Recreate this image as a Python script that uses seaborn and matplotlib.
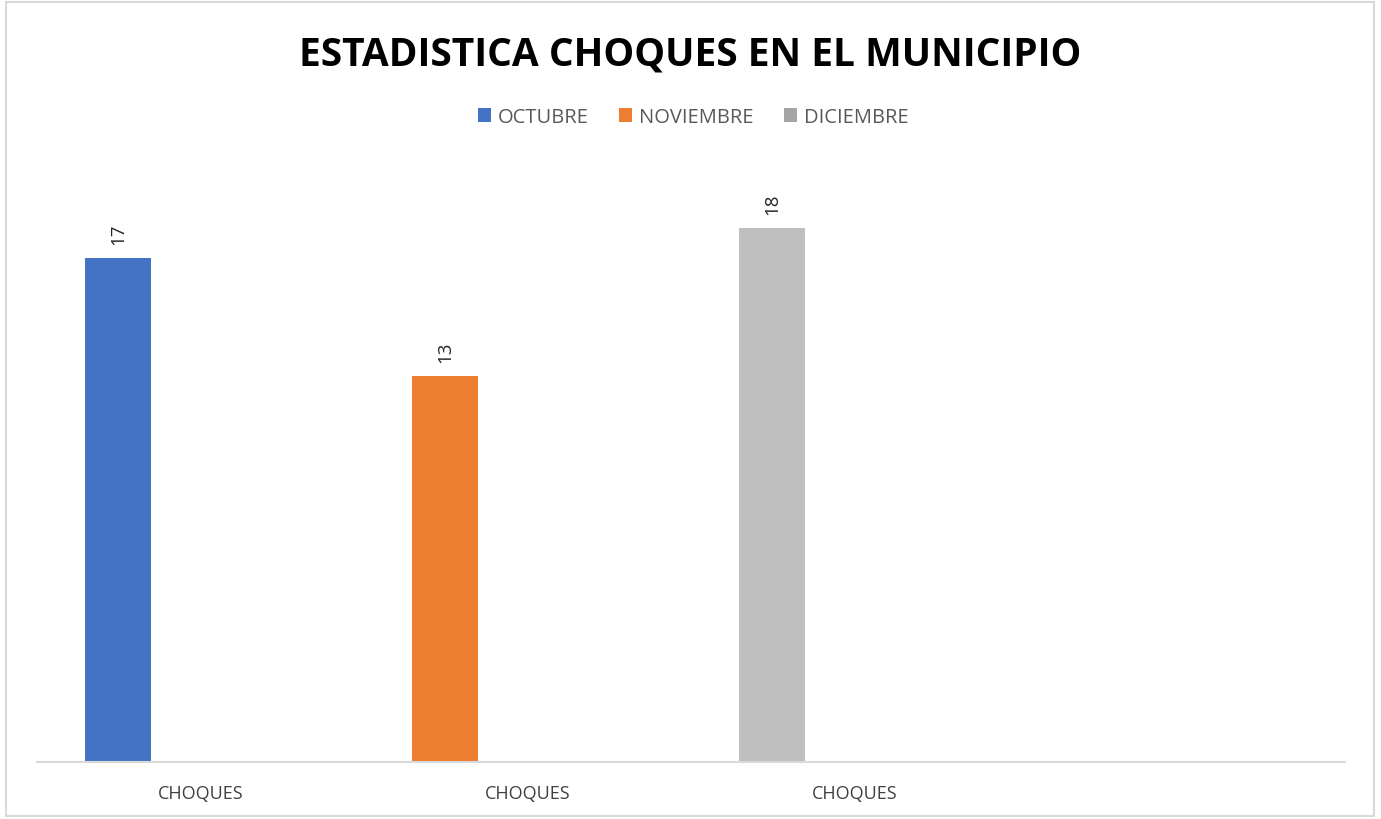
import numpy as np
import pandas as pd
import matplotlib
matplotlib.use('Agg')
import matplotlib.pyplot as plt
from matplotlib.patches import Patch, Rectangle
import seaborn as sns


# data
categories = ['CHOQUES', 'CHOQUES', 'CHOQUES', '']
series = ['OCTUBRE', 'NOVIEMBRE', 'DICIEMBRE']
values = [17, 13, 18]
bar_colors = ['#4472C4', '#ED7D31', '#BFBFBF']
legend_colors = ['#4472C4', '#ED7D31', '#A5A5A5']

slot_offset = -0.252
bar_width = 0.203

sns.set_style('white')
plt.rcParams['font.family'] = ['Open Sans', 'DejaVu Sans']

df = pd.DataFrame({
    'pos': np.arange(len(values)) + slot_offset,
    'value': values,
    'serie': series,
})

fig = plt.figure(figsize=(13.81, 8.2), dpi=100)
ax = fig.add_axes([0.0268, 0.0695, 0.9472, 0.7237])

sns.barplot(data=df, x='pos', y='value', hue='serie', hue_order=series,
            palette=bar_colors, native_scale=True, dodge=False,
            width=bar_width, saturation=1, legend=False, linewidth=0, ax=ax)

for c in ax.containers:
    ax.bar_label(c, rotation=90, padding=10, fontsize=13.5, color='#262626')

ax.set_xlim(-0.5, len(categories) - 0.5)
ax.set_ylim(0, 20)
ax.set_xticks(range(len(categories)))
ax.set_xticklabels(categories, fontsize=13, color='#404040')
ax.tick_params(axis='x', length=0, pad=16)
ax.set_yticks([])
ax.set_xlabel('')
ax.set_ylabel('')
for s in ['top', 'left', 'right']:
    ax.spines[s].set_visible(False)
ax.spines['bottom'].set_color('#D9D9D9')
ax.spines['bottom'].set_linewidth(1.5)

fig.text(0.5, 0.933, 'ESTADISTICA CHOQUES EN EL MUNICIPIO', ha='center', va='center',
         fontsize=28, fontweight='bold', color='black')

handles = [Patch(facecolor=col, edgecolor='none') for col in legend_colors]
fig.legend(handles, series, loc='center', bbox_to_anchor=(0.502, 0.856), ncol=3,
           frameon=False, fontsize=14.5, labelcolor='#595959',
           handlelength=0.65, handleheight=0.65, handletextpad=0.35, columnspacing=1.5)

# chart area border
fig.patches.append(Rectangle((6 / 1381, 3 / 820), 1368 / 1381, 814 / 820,
                             transform=fig.transFigure, fill=False,
                             edgecolor='#D9D9D9', linewidth=1.5))

fig.savefig('out.png', dpi=100)
